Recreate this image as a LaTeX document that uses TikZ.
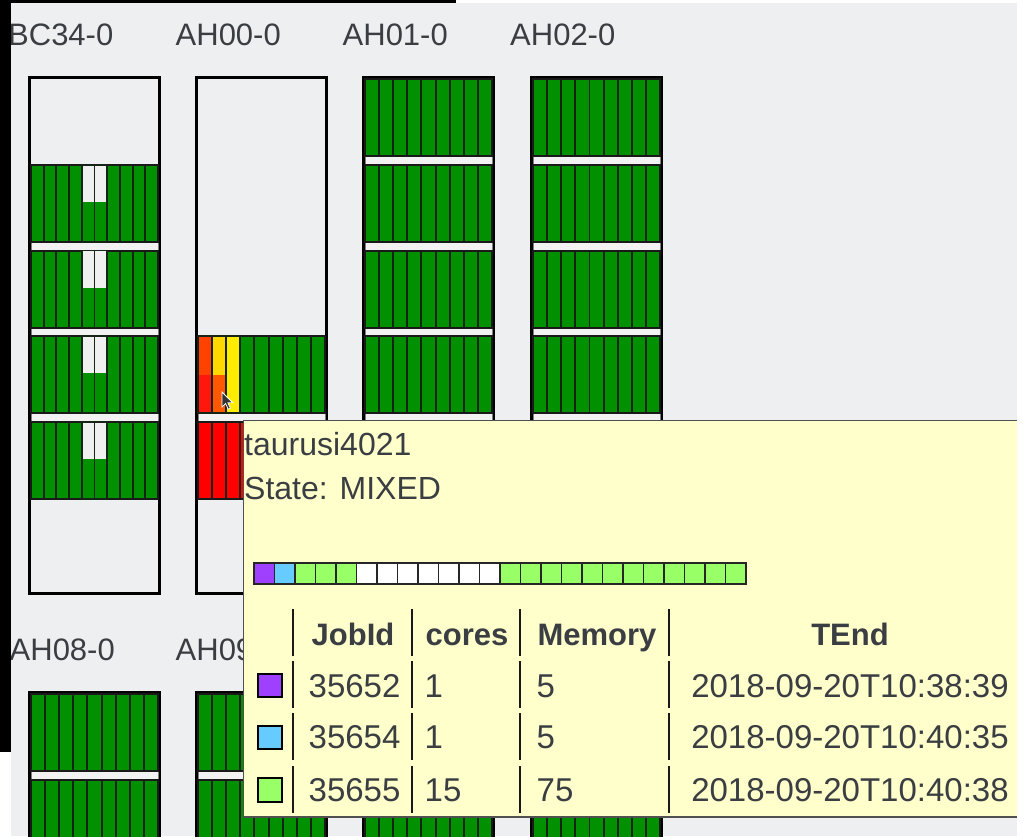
\documentclass[tikz,border=0pt]{standalone}
\usepackage{fontspec}
\setmainfont{Liberation Sans}

\definecolor{pagebg}{RGB}{238,239,241}
\definecolor{bladegreen}{RGB}{0,144,0}
\definecolor{bladeedge}{RGB}{22,36,22}
\definecolor{gapfill}{RGB}{242,242,242}
\definecolor{gapedge}{RGB}{125,125,125}
\definecolor{idlewhite}{RGB}{240,240,240}
\definecolor{txt}{RGB}{58,62,66}
\definecolor{tipfill}{RGB}{255,255,204}
\definecolor{tipedge}{RGB}{80,80,80}
\definecolor{jobpurple}{RGB}{160,64,255}
\definecolor{jobblue}{RGB}{102,204,255}
\definecolor{joblime}{RGB}{153,255,102}
\definecolor{hotred}{RGB}{255,22,12}
\definecolor{redorange}{RGB}{255,66,0}
\definecolor{deeporange}{RGB}{255,88,0}
\definecolor{goldload}{RGB}{255,216,0}
\definecolor{yellowload}{RGB}{255,236,0}
\definecolor{fullred}{RGB}{255,0,0}

\tikzset{
  rackframe/.style={draw=black, line width=3, fill=pagebg},
  blade/.style={draw=bladeedge, line width=1.9},
  chassisline/.style={draw=black!90, line width=2},
  gapbar/.style={fill=gapfill, draw=gapedge, line width=1},
  racklabel/.style={anchor=base west, inner sep=0, text=txt, font=\fontsize{31}{36}\selectfont},
  tipbox/.style={fill=tipfill, draw=tipedge, line width=1.5},
  tiptext/.style={anchor=base west, inner sep=0, text=txt, font=\fontsize{32}{38}\selectfont},
  headtext/.style={anchor=base, inner sep=0, text=txt, font=\fontsize{31}{36}\selectfont\bfseries},
  datatext/.style={anchor=base west, inner sep=0, text=txt, font=\fontsize{33}{38}\selectfont},
  cell/.style={draw=black!85, line width=1.5},
  legendsq/.style={draw=black, line width=2},
  colsep/.style={draw=black!90, line width=2},
}

% one chassis: rack left edge, top, number of blades, blade colour
\newcommand\chassisat[4]{%
  \foreach \i in {1,...,#3}{%
    \pgfmathsetmacro\xa{#1+3+(\i-1)*127/#3}%
    \pgfmathsetmacro\xb{#1+3+\i*127/#3}%
    \draw[blade,fill=#4] (\xa,#2) rectangle (\xb,{#2+77});
  }%
  \draw[chassisline] ({#1+3},#2) rectangle ({#1+130},{#2+77});
}
% one blade with two load colours: rack left, top, blades, index, upper, lower, split
\newcommand\splitblade[7]{%
  \pgfmathsetmacro\xa{#1+3+(#4-1)*127/#3}%
  \pgfmathsetmacro\xb{#1+3+#4*127/#3}%
  \fill[#5] (\xa,#2) rectangle (\xb,{#2+#7});
  \fill[#6] (\xa,{#2+#7}) rectangle (\xb,{#2+77});
  \draw[blade] (\xa,#2) rectangle (\xb,{#2+77});
}
% separator strip below a chassis
\newcommand\gapbarat[2]{\draw[gapbar] ({#1+3},{#2+77}) rectangle ({#1+130},{#2+85.75});}

\begin{document}
\begin{tikzpicture}[x=1pt,y=-1pt]
\useasboundingbox (0,0) rectangle (1028,836);
\clip (0,0) rectangle (1028,836);
\fill[pagebg] (0,0) rectangle (1028,836);

% ---------- first row of racks ----------
\foreach \L in {28,195,362,530}{
  \draw[rackframe] ({\L+1.5},77.5) rectangle ({\L+131.5},593.5);
}

% BC34-0: four chassis with ten blades
\foreach \k in {1,...,3}{\pgfmathsetmacro\ctop{79+85.75*\k}\gapbarat{28}{\ctop}}
\foreach \k in {1,...,4}{%
  \pgfmathsetmacro\ctop{79+85.75*\k}%
  \chassisat{28}{\ctop}{10}{bladegreen}%
  \splitblade{28}{\ctop}{10}{5}{idlewhite}{bladegreen}{37}%
  \splitblade{28}{\ctop}{10}{6}{idlewhite}{bladegreen}{37}%
}

% AH00-0: two loaded chassis
\gapbarat{195}{336.25}
\chassisat{195}{336.25}{9}{bladegreen}
\splitblade{195}{336.25}{9}{1}{redorange}{hotred}{39}
\splitblade{195}{336.25}{9}{2}{goldload}{deeporange}{39}
\splitblade{195}{336.25}{9}{3}{yellowload}{yellowload}{39}
\chassisat{195}{422}{9}{fullred}

% AH01-0 and AH02-0: six chassis each
\foreach \L in {362,530}{
  \foreach \k in {0,...,4}{\pgfmathsetmacro\ctop{79+85.75*\k}\gapbarat{\L}{\ctop}}
  \foreach \k in {0,...,5}{\pgfmathsetmacro\ctop{79+85.75*\k}\chassisat{\L}{\ctop}{9}{bladegreen}}
}

\node[racklabel] (lblBC) at (8,45.5) {BC34-0};
\node[racklabel] (lblA0) at (175.5,45.5) {AH00-0};
\node[racklabel] (lblA1) at (342.5,45.5) {AH01-0};
\node[racklabel] (lblA2) at (510,45.5) {AH02-0};

% ---------- second row of racks ----------
\foreach \L in {28,195,362,530}{
  \draw[rackframe] ({\L+1.5},692.5) rectangle ({\L+131.5},900);
  \gapbarat{\L}{694}
  \chassisat{\L}{694}{9}{bladegreen}
  \chassisat{\L}{779.75}{9}{bladegreen}
}
\node[racklabel] (lblA8) at (9.5,660.5) {AH08-0};
\node[racklabel] (lblA9) at (175.5,660.5) {AH09-0};

% mouse pointer
\filldraw[fill=black!80, draw=white, line width=0.8]
  (222,392) -- ++(0,15) -- ++(3.6,-3.4) -- ++(2.6,5.6) -- ++(2.2,-1)
  -- ++(-2.5,-5.4) -- ++(4.9,0) -- cycle;

% ---------- node tooltip ----------
\draw[tipbox] (243.5,420.5) rectangle (1040,817);
\node[tiptext] (host) at (244,455) {taurusi4021};
\node[tiptext] (state) at (244,499) {State: MIXED};

% per-core job allocation
\foreach \c [count=\i from 0] in {jobpurple,jobblue,joblime,joblime,joblime,
    white,white,white,white,white,white,white,
    joblime,joblime,joblime,joblime,joblime,joblime,
    joblime,joblime,joblime,joblime,joblime,joblime}{
  \draw[cell,fill=\c] ({254+20.5*\i},563) rectangle ({254+20.5*(\i+1)},584);
}

% job table
\foreach \x in {293,412,520,669}{
  \foreach \a/\b in {609/656,661/708,713/760,766/813}{
    \draw[colsep] (\x,\a) -- (\x,\b);
  }
}
\node[headtext] (hJob) at (353,645) {JobId};
\node[headtext] (hCores) at (467,645) {cores};
\node[headtext] (hMem) at (597,645) {Memory};
\node[headtext] (hEnd) at (850,645) {TEnd};

\draw[legendsq,fill=jobpurple] (258,674) rectangle (282,697);
\draw[legendsq,fill=jobblue] (258,726) rectangle (282,749);
\draw[legendsq,fill=joblime] (258,778) rectangle (282,802);

\foreach \y/\job/\cores/\mem/\tend in {
    697/35652/1/5/2018-09-20T10:38:39,
    748.5/35654/1/5/2018-09-20T10:40:35,
    801.5/35655/15/75/2018-09-20T10:40:38}{
  \node[datatext] (job\job) at (308.5,\y) {\job};
  \node[datatext] (cores\job) at (424.5,\y) {\cores};
  \node[datatext] (mem\job) at (536.5,\y) {\mem};
  \node[datatext,anchor=base] (end\job) at (850,\y) {\tend};
}

% ---------- window edges ----------
\fill[black] (0,0) rectangle (456,3);
\fill[white] (456,0) rectangle (1028,3);
\fill[black] (0,0) rectangle (10.5,752);
\fill[white] (0,752) rectangle (10.5,836);
\fill[white] (1017,0) rectangle (1028,836);
\end{tikzpicture}
\end{document}
